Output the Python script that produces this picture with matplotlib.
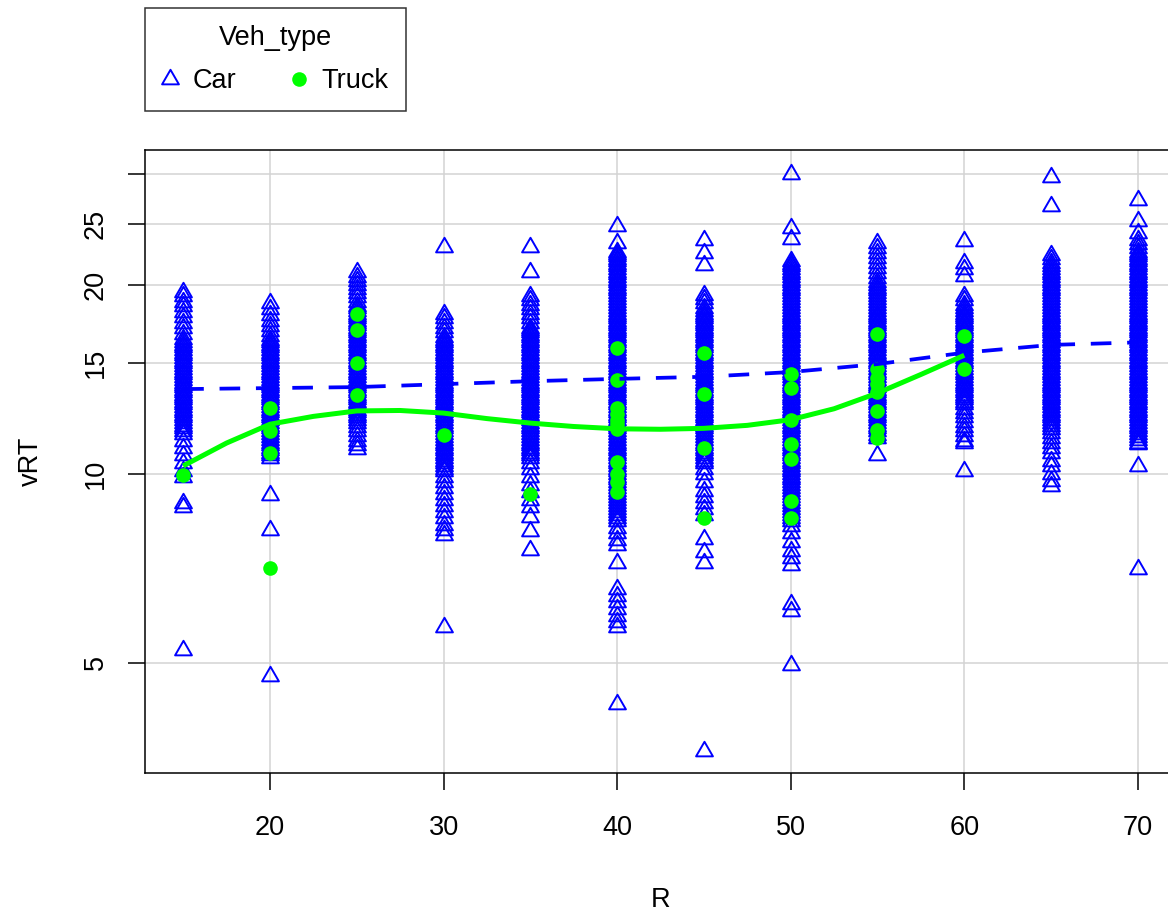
import matplotlib
matplotlib.use('Agg')
import matplotlib.pyplot as plt
import numpy as np
from matplotlib.path import Path
from matplotlib.lines import Line2D
from matplotlib.ticker import FixedLocator, NullLocator, FixedFormatter

plt.rcParams['font.family'] = ['Liberation Sans', 'DejaVu Sans']

# ---------------- data ----------------
R_levels = [15, 20, 25, 30, 35, 40, 45, 50, 55, 60, 65, 70]

car_15 = [19.5, 19.2, 18.8, 18.5, 18.1, 17.8, 17.4, 17.1, 16.7, 16.4,
          16.2, 16.05, 15.9, 15.75, 15.6, 15.45, 15.3, 15.15, 15.0, 14.85, 14.7, 14.55,
          14.4, 14.25, 14.1, 13.98, 13.86, 13.74, 13.62, 13.5, 13.38, 13.26, 13.14,
          13.02, 12.9, 12.78, 12.66, 12.54, 12.42, 12.3, 12.18, 12.06, 11.94, 11.82,
          11.7, 11.58,
          11.3, 11.0, 10.7, 10.4, 10.1, 9.9, 9.0, 8.85, 5.25]
car_20 = [18.7, 18.3, 17.9, 17.5, 17.2, 16.9, 16.6,
          16.35, 16.2, 16.05, 15.9, 15.75, 15.6, 15.45, 15.3, 15.15, 15.0, 14.85, 14.7,
          14.55, 14.4, 14.25, 14.1, 13.98, 13.86, 13.74, 13.62, 13.5, 13.38, 13.26,
          13.14, 13.02, 12.9, 12.78, 12.66, 12.54, 12.42, 12.3, 12.18, 12.06, 11.94,
          11.82, 11.7, 11.58, 11.46, 11.34, 11.22, 11.1, 11.0, 10.9, 10.8, 10.7,
          10.6, 9.25, 8.15, 4.77]
car_25 = [21.0, 20.6, 20.3, 20.0, 19.7, 19.4, 19.1, 18.8, 18.5,
          18.4, 18.2, 18.0, 17.85, 17.7, 17.55, 17.4, 17.25, 17.1, 16.95, 16.8, 16.65,
          16.5, 16.35, 16.2, 16.05, 15.9, 15.75, 15.6, 15.45, 15.3, 15.15, 15.0, 14.85,
          14.7, 14.55, 14.4, 14.25, 14.1, 13.98, 13.86, 13.74, 13.62, 13.5, 13.38,
          13.26, 13.14, 13.02, 12.9, 12.78, 12.66, 12.54, 12.42, 12.3, 12.18, 12.06,
          11.9, 11.7, 11.5, 11.3, 11.1, 10.95]
car_30 = [23.0, 18.0, 17.7, 17.4, 17.1, 16.8, 16.5,
          16.35, 16.2, 16.05, 15.9, 15.75, 15.6, 15.45, 15.3, 15.15, 15.0, 14.85, 14.7,
          14.55, 14.4, 14.25, 14.1, 13.98, 13.86, 13.74, 13.62, 13.5, 13.38, 13.26,
          13.14, 13.02, 12.9, 12.78, 12.66, 12.54, 12.42, 12.3, 12.18, 12.06, 11.94,
          11.82, 11.7, 11.58, 11.46, 11.34, 11.22, 11.1, 11.0, 10.9, 10.8, 10.7, 10.6,
          10.5, 10.4, 10.3, 10.2, 10.1,
          9.9, 9.7, 9.5, 9.3, 9.1, 8.9, 8.7, 8.5, 8.3, 8.15, 8.0, 5.7]
car_35 = [23.0, 21.0, 19.2, 18.9, 18.6, 18.3, 18.0, 17.7, 17.4, 17.1,
          16.95, 16.8, 16.65, 16.5, 16.35, 16.2, 16.05, 15.9, 15.75, 15.6, 15.45, 15.3,
          15.15, 15.0, 14.85, 14.7, 14.55, 14.4, 14.25, 14.1, 13.98, 13.86, 13.74,
          13.62, 13.5, 13.38, 13.26, 13.14, 13.02, 12.9, 12.78, 12.66, 12.54, 12.42,
          12.3, 12.18, 12.06, 11.94, 11.82, 11.7, 11.58, 11.46, 11.34, 11.22, 11.1,
          11.0, 10.9, 10.8, 10.7, 10.6,
          10.4, 10.2, 9.9, 9.6, 9.35, 9.1, 8.85, 8.55, 8.1, 7.57]
car_40 = [24.8, 23.3,
          22.6, 22.4, 22.2, 22.0, 21.8, 21.6, 21.4, 21.2, 21.0, 20.8, 20.6, 20.4, 20.2,
          20.0, 19.8, 19.6, 19.4, 19.2, 19.0, 18.8, 18.6, 18.4, 18.2, 18.0,
          17.85, 17.7, 17.55, 17.4, 17.25, 17.1, 16.95, 16.8, 16.65, 16.5, 16.35, 16.2,
          16.05, 15.9, 15.75, 15.6, 15.45, 15.3, 15.15, 15.0, 14.85, 14.7, 14.55, 14.4,
          14.25, 14.1, 13.98, 13.86, 13.74, 13.62, 13.5, 13.38, 13.26, 13.14, 13.02,
          12.9, 12.78, 12.66, 12.54, 12.42, 12.3, 12.18, 12.06, 11.94, 11.82, 11.7,
          11.58, 11.46, 11.34, 11.22, 11.1, 11.0, 10.9, 10.8, 10.7, 10.6, 10.5, 10.4,
          10.3, 10.2, 10.1, 10.0, 9.9, 9.8, 9.7, 9.6, 9.5, 9.4, 9.3, 9.2, 9.1, 9.0,
          8.9, 8.8, 8.7, 8.6, 8.5, 8.4,
          8.2, 8.05, 7.85, 7.7, 7.22, 6.55, 6.4, 6.25, 6.1, 5.95, 5.8, 5.7, 4.3]
car_45 = [23.6, 22.5, 21.5, 19.3, 19.0, 18.7,
          18.4, 18.2, 18.0, 17.85, 17.7, 17.55, 17.4, 17.25, 17.1, 16.95, 16.8, 16.65,
          16.5, 16.35, 16.2, 16.05, 15.9, 15.75, 15.6, 15.45, 15.3, 15.15, 15.0, 14.85,
          14.7, 14.55, 14.4, 14.25, 14.1, 13.98, 13.86, 13.74, 13.62, 13.5, 13.38,
          13.26, 13.14, 13.02, 12.9, 12.78, 12.66, 12.54, 12.42, 12.3, 12.18, 12.06,
          11.94, 11.82, 11.7, 11.58, 11.46, 11.34, 11.22, 11.1, 11.0, 10.9, 10.8, 10.7,
          10.6, 10.5, 10.4,
          10.2, 10.0, 9.7, 9.4, 9.2, 9.0, 8.8, 8.6, 7.88, 7.5, 7.22, 3.62]
car_50 = [30.0, 24.6, 23.7,
          21.8, 21.6, 21.4, 21.2, 21.0, 20.8, 20.6, 20.4, 20.2, 20.0, 19.8, 19.6, 19.4,
          19.2, 19.0, 18.8, 18.6, 18.4, 18.2, 18.0,
          17.85, 17.7, 17.55, 17.4, 17.25, 17.1, 16.95, 16.8, 16.65, 16.5, 16.35, 16.2,
          16.05, 15.9, 15.75, 15.6, 15.45, 15.3, 15.15, 15.0, 14.85, 14.7, 14.55, 14.4,
          14.25, 14.1, 13.98, 13.86, 13.74, 13.62, 13.5, 13.38, 13.26, 13.14, 13.02,
          12.9, 12.78, 12.66, 12.54, 12.42, 12.3, 12.18, 12.06, 11.94, 11.82, 11.7,
          11.58, 11.46, 11.34, 11.22, 11.1, 11.0, 10.9, 10.8, 10.7, 10.6, 10.5, 10.4,
          10.3, 10.2, 10.1, 10.0, 9.9, 9.8, 9.7, 9.6, 9.5, 9.4, 9.3, 9.2, 9.1, 9.0,
          8.9, 8.8, 8.7, 8.6, 8.5, 8.4,
          8.25, 8.05, 7.8, 7.55, 7.35, 7.15, 6.2, 6.05, 4.97]
car_55 = [23.3, 22.9, 22.5, 22.1, 21.7, 21.3, 20.9, 20.5,
          20.2, 20.0, 19.8, 19.6, 19.4, 19.2, 19.0, 18.8, 18.6, 18.4, 18.2, 18.0,
          17.85, 17.7, 17.55, 17.4, 17.25, 17.1, 16.95, 16.8, 16.65, 16.5, 16.35, 16.2,
          16.05, 15.9, 15.75, 15.6, 15.45, 15.3, 15.15, 15.0, 14.85, 14.7, 14.55, 14.4,
          14.25, 14.1, 13.98, 13.86, 13.74, 13.62, 13.5, 13.38, 13.26, 13.14, 13.02,
          12.9, 12.78, 12.66, 12.54, 12.42, 12.3, 12.18, 12.06, 11.94, 11.82, 11.7,
          11.55, 11.4, 10.7]
car_60 = [23.5, 21.7, 21.2, 20.7, 19.2, 18.9, 18.6,
          18.4, 18.2, 18.0, 17.85, 17.7, 17.55, 17.4, 17.25, 17.1, 16.95, 16.8, 16.65,
          16.5, 16.35, 16.2, 16.05, 15.9, 15.75, 15.6, 15.45, 15.3, 15.15, 15.0, 14.85,
          14.7, 14.55, 14.4, 14.25, 14.1, 13.98, 13.86, 13.74, 13.62, 13.5, 13.38,
          13.26, 13.14, 13.02, 12.9,
          12.7, 12.5, 12.3, 12.1, 11.9, 11.7, 11.5, 11.3, 11.2, 10.1]
car_65 = [29.7, 26.7, 22.3, 22.0, 21.7,
          21.4, 21.2, 21.0, 20.8, 20.6, 20.4, 20.2, 20.0, 19.8, 19.6, 19.4, 19.2, 19.0,
          18.8, 18.6, 18.4, 18.2, 18.0,
          17.85, 17.7, 17.55, 17.4, 17.25, 17.1, 16.95, 16.8, 16.65, 16.5, 16.35, 16.2,
          16.05, 15.9, 15.75, 15.6, 15.45, 15.3, 15.15, 15.0, 14.85, 14.7, 14.55, 14.4,
          14.25, 14.1, 13.98, 13.86, 13.74, 13.62, 13.5, 13.38, 13.26, 13.14, 13.02,
          12.9, 12.78, 12.66, 12.54, 12.42, 12.3, 12.18, 12.06, 11.94,
          11.8, 11.6, 11.4, 11.2, 11.0, 10.8, 10.5, 10.3, 10.0, 9.75, 9.55]
car_70 = [27.3, 25.3, 24.2, 23.6, 23.2, 22.9,
          22.6, 22.4, 22.2, 22.0, 21.8, 21.6, 21.4, 21.2, 21.0, 20.8, 20.6, 20.4, 20.2,
          20.0, 19.8, 19.6, 19.4, 19.2, 19.0, 18.8, 18.6, 18.4, 18.2, 18.0,
          17.85, 17.7, 17.55, 17.4, 17.25, 17.1, 16.95, 16.8, 16.65, 16.5, 16.35, 16.2,
          16.05, 15.9, 15.75, 15.6, 15.45, 15.3, 15.15, 15.0, 14.85, 14.7, 14.55, 14.4,
          14.25, 14.1, 13.98, 13.86, 13.74, 13.62, 13.5, 13.38, 13.26, 13.14, 13.02,
          12.9, 12.78, 12.66, 12.54, 12.42, 12.3, 12.18, 12.06, 11.94, 11.82, 11.7,
          11.58, 11.46, 11.34, 11.22, 11.15, 10.3, 7.05]

truck_15 = [9.95]
truck_20 = [12.75, 11.7, 10.8, 7.07]
truck_25 = [18.0, 16.95, 15.0, 13.35]
truck_30 = [11.55]
truck_35 = [9.3]
truck_40 = [15.85, 14.1, 12.75, 12.45, 12.2, 12.0, 11.8, 10.45, 10.0, 9.7, 9.35]
truck_45 = [15.6, 13.4, 11.0, 8.5]
truck_50 = [14.4, 13.7, 12.2, 11.15, 10.55, 9.05, 8.5]
truck_55 = [16.7, 14.7, 14.2, 13.9, 13.5, 12.6, 11.75, 11.4]
truck_60 = [16.6, 14.7]

car_fit_R = [15, 20, 25, 30, 35, 40, 45, 50, 55, 60, 65, 70]
car_fit_vRT = [13.65, 13.7, 13.75, 13.9, 14.05, 14.17, 14.28, 14.53, 14.96,
               15.6, 16.05, 16.2]

truck_fit_R = [15, 17.5, 20, 22.5, 25, 27.5, 30, 32.5, 35, 37.5, 40, 42.5,
               45, 47.5, 50, 52.5, 55, 57.5, 60]
truck_fit_vRT = [10.3, 11.2, 12.0, 12.35, 12.6, 12.62, 12.5, 12.25, 12.05, 11.9,
                 11.8, 11.78, 11.82, 11.95, 12.2, 12.7, 13.45, 14.4, 15.45]

x_ticks = [20, 30, 40, 50, 60, 70]
y_ticks = [5, 10, 15, 20, 25, 30]
y_tick_labels = ['5', '10', '15', '20', '25', '']

car_groups = [car_15, car_20, car_25, car_30, car_35, car_40, car_45, car_50,
              car_55, car_60, car_65, car_70]
truck_levels = [15, 20, 25, 30, 35, 40, 45, 50, 55, 60]
truck_groups = [truck_15, truck_20, truck_25, truck_30, truck_35, truck_40,
                truck_45, truck_50, truck_55, truck_60]

# ---------------- styling ----------------
BLUE = '#0000FF'
GREEN = '#00FF00'
FS = 19.5
TRI_MS = 14.0
TRI_MEW = 1.4

tri = Path([(0, 1), (-0.866, -0.5), (0.866, -0.5), (0, 1)],
           [Path.MOVETO, Path.LINETO, Path.LINETO, Path.CLOSEPOLY])

fig = plt.figure(figsize=(11.68, 9.11), dpi=100)
ax = fig.add_axes([145 / 1168, 1 - 773 / 911, 1031 / 1168, 623 / 911])
ax.set_yscale('log')
ax.set_xlim(12.8, 72.2)
ax.set_ylim(3.34, 32.8)

for y in y_ticks:
    ax.axhline(y, color='#D3D3D3', lw=1.1, zorder=0)
for x in x_ticks:
    ax.axvline(x, color='#D3D3D3', lw=1.1, zorder=0)

for r, vals in zip(R_levels, car_groups):
    ax.plot(np.full(len(vals), r), vals, linestyle='none', marker=tri,
            markersize=TRI_MS, markerfacecolor='none', markeredgecolor=BLUE,
            markeredgewidth=TRI_MEW, zorder=3)

for r, vals in zip(truck_levels, truck_groups):
    ax.plot(np.full(len(vals), r), vals, linestyle='none', marker='o',
            markersize=10.5, markerfacecolor=GREEN, markeredgecolor=GREEN,
            markeredgewidth=0, zorder=4)

ax.plot(car_fit_R, car_fit_vRT, color=BLUE, lw=2.7,
        linestyle=(0, (5.5, 4.2)), zorder=5, solid_capstyle='butt')
ax.plot(truck_fit_R, truck_fit_vRT, color=GREEN, lw=3.6, zorder=6,
        solid_capstyle='butt', solid_joinstyle='round')

ax.xaxis.set_major_locator(FixedLocator(x_ticks))
ax.yaxis.set_major_locator(FixedLocator(y_ticks))
ax.yaxis.set_major_formatter(FixedFormatter(y_tick_labels))
ax.yaxis.set_minor_locator(NullLocator())
ax.xaxis.set_minor_locator(NullLocator())

ax.tick_params(axis='both', direction='out', length=12, width=1.1,
               labelsize=FS, colors='black')
ax.tick_params(axis='x', pad=18)
ax.tick_params(axis='y', pad=14)
for lab in ax.get_yticklabels():
    lab.set_rotation(90)
    lab.set_va('center')

for sp in ax.spines.values():
    sp.set_linewidth(1.1)
    sp.set_color('black')

ax.set_xlabel('R', fontsize=FS)
ax.xaxis.set_label_coords(0.5, -0.183)
ax.set_ylabel('vRT', fontsize=FS)
ax.yaxis.set_label_coords(-0.098, 0.5)

handles = [
    Line2D([], [], linestyle='none', marker=tri, markersize=TRI_MS,
           markerfacecolor='none', markeredgecolor=BLUE, markeredgewidth=TRI_MEW),
    Line2D([], [], linestyle='none', marker='o', markersize=10.5,
           markerfacecolor=GREEN, markeredgecolor=GREEN, markeredgewidth=0),
]
leg = fig.legend(handles, ['Car', 'Truck'], title='Veh_type', ncol=2,
                 loc='upper left', bbox_to_anchor=(145 / 1168, 1 - 8 / 911),
                 bbox_transform=fig.transFigure, borderaxespad=0,
                 fontsize=FS, title_fontsize=FS, frameon=True, fancybox=False,
                 edgecolor='black', borderpad=0.64, handlelength=0.56,
                 handletextpad=0.55, columnspacing=2.05, labelspacing=0.62)
leg.get_frame().set_linewidth(1.1)

fig.savefig('out.png', dpi=100)
